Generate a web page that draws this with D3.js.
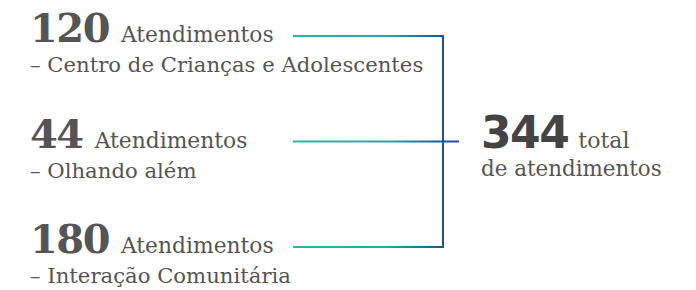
<!DOCTYPE html>
<html>
<head>
<meta charset="utf-8">
<script src="https://cdn.jsdelivr.net/npm/d3@7"></script>
<style>
  body { margin: 0; background: #fff; }
  text { font-family: "DejaVu Serif", serif; }
</style>
</head>
<body>
<div id="vis"></div>
<script>
// Data
const programs = ['Centro de Crianças e Adolescentes', 'Olhando além', 'Interação Comunitária'];
const counts = [120, 44, 180];
const unitLabel = 'Atendimentos';
const totalLabel = ['total', 'de atendimentos'];

const width = 696;
const height = 290;

const svg = d3.select('#vis').append('svg')
    .attr('width', width)
    .attr('height', height);

const rows = programs.map((p, i) => ({name: p, count: counts[i]}));
const total = d3.sum(counts);

// vertical position of each connector line
const y = d3.scalePoint()
    .domain(programs)
    .range([36, 247]);

const lineX0 = 293, lineX1 = 443, stubX = 459;

const defs = svg.append('defs');
const grad = defs.append('linearGradient')
    .attr('id', 'lineGrad')
    .attr('gradientUnits', 'userSpaceOnUse')
    .attr('x1', lineX0).attr('x2', lineX1)
    .attr('y1', 0).attr('y2', 0);
grad.append('stop').attr('offset', '0%').attr('stop-color', '#2db5a7');
grad.append('stop').attr('offset', '62%').attr('stop-color', '#27a9a6');
grad.append('stop').attr('offset', '100%').attr('stop-color', '#1a5599');

const lines = svg.append('g');

lines.selectAll('.hline')
    .data(rows)
    .join('line')
    .attr('class', 'hline')
    .attr('x1', lineX0)
    .attr('x2', lineX1 + 1)
    .attr('y1', d => y(d.name))
    .attr('y2', d => y(d.name))
    .attr('stroke', 'url(#lineGrad)')
    .attr('stroke-width', 2);

lines.append('line')
    .attr('x1', lineX1).attr('x2', lineX1)
    .attr('y1', y(programs[0]) - 1)
    .attr('y2', y(programs[programs.length - 1]) + 1)
    .attr('stroke', '#1a5599')
    .attr('stroke-width', 2);

lines.append('line')
    .attr('x1', lineX1).attr('x2', stubX)
    .attr('y1', y(programs[1])).attr('y2', y(programs[1]))
    .attr('stroke', '#1a5599')
    .attr('stroke-width', 2);

// row labels
const labels = svg.append('g');

const rowG = labels.selectAll('.row')
    .data(rows)
    .join('g')
    .attr('class', 'row')
    .attr('transform', d => `translate(30, ${y(d.name) + 6})`);

const head = rowG.append('text')
    .attr('fill', '#555');
head.append('tspan')
    .attr('font-size', 40)
    .attr('font-weight', 'bold')
    .attr('letter-spacing', -1.5)
    .text(d => d.count);
head.append('tspan')
    .attr('dx', 12)
    .attr('font-size', 21.8)
    .text(unitLabel);

rowG.append('text')
    .attr('y', 30)
    .attr('fill', '#555')
    .attr('font-size', 21.2)
    .text(d => '– ' + d.name);

// total
const totalG = svg.append('g')
    .attr('transform', `translate(481, ${y(programs[1]) + 6})`);

const totalText = totalG.append('text').attr('fill', '#444');
totalText.append('tspan')
    .attr('font-family', '"DejaVu Sans", sans-serif')
    .attr('font-size', 44)
    .attr('font-weight', 'bold')
    .attr('letter-spacing', -1.5)
    .text(total);
totalText.append('tspan')
    .attr('dx', 10)
    .attr('font-size', 22)
    .attr('fill', '#555')
    .text(totalLabel[0]);

totalG.append('text')
    .attr('y', 28)
    .attr('fill', '#555')
    .attr('font-size', 21.4)
    .text(totalLabel[1]);
</script>
</body>
</html>
